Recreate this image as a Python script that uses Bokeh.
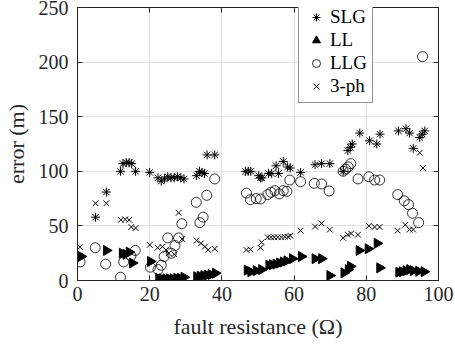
import numpy as np
from bokeh.plotting import figure
from bokeh.models import LinearAxis, Legend, LegendItem, FixedTicker
from bokeh.embed import file_html
from bokeh.resources import INLINE

slg_x = [0.5, 5, 8, 11.9, 12.6, 13.5, 14.3, 15, 16.1, 20, 22.3, 23.2, 24.1, 25, 25.9, 26.8, 27.7, 28.6, 29.5,
         33, 33.8, 34.5, 35.2, 35.9, 38, 46.5, 47.3, 48, 50.2, 50.7, 51.1, 52.9, 53.8, 55, 55.7, 57, 58.2, 58.9,
         61.8, 65.8, 67.6, 69.9, 73.6, 74.9, 75.6, 76.1, 78.2, 80.9, 82.9, 83.8, 88.9, 91, 92, 93, 94.8, 95.5, 96.2]
slg_y = [22, 58, 81, 100, 107, 108, 108, 107, 100, 99, 94, 91, 93, 95, 94, 94, 95, 94, 93,
         96, 100, 99, 98, 115, 115, 100, 100, 100, 96, 94, 94, 98, 98, 105, 98, 109, 104, 103,
         99, 106, 107, 107, 100, 119, 122, 125, 135, 128, 125, 134, 137, 139, 135, 121, 131, 134, 137]

ll_x = [1, 8, 12.4, 13.4, 14.3, 15.2, 20.2, 22.5, 23.5, 24.5, 25.5, 26.5, 27.5, 28.5, 29.5, 33, 34, 35, 36, 37, 38.2,
        47, 48, 49.5, 51, 53, 54, 55, 56, 57, 58, 59.5, 62, 65.8, 67.6, 69.9, 73.8, 75, 75.6, 78, 80.5, 83, 83.7,
        89, 90, 91, 92, 93, 94.5, 96]
ll_y = [22, 27.5, 25, 24, 26, 16, 17.4, 2, 1.5, 1.5, 1.5, 1.5, 2, 2, 3, 3.5, 4, 4.5, 5, 5.5, 6.7,
        9.5, 8, 9, 10, 14, 14.5, 15, 16, 17, 18, 20, 22, 20, 20, 4.5, 7, 10, 13, 27.5, 29, 34, 11.6,
        7.6, 8, 9, 10, 9, 8.5, 8]

llg_x = [0.7, 4.9, 7.8, 11.9, 12.8, 14.8, 16, 20.2, 22.3, 23.2, 24, 25, 26, 27, 28, 28.9, 32.9, 33.9, 34.8, 35.8, 38,
         46.8, 47.9, 49.5, 50.7, 52.7, 53.6, 54.7, 55.9, 57, 58, 58.8, 61.8, 65.6, 67.6, 69.7, 73.6, 74.3, 75, 75.7,
         77.7, 80.7, 82.3, 83.7, 88.7, 90.5, 91.7, 92.8, 94.5, 95.6]
llg_y = [17, 30, 15, 3, 17, 22.5, 27.5, 12.2, 10, 14, 22, 39, 25, 32, 39, 52, 71.6, 53, 58, 78, 93,
         80, 74, 75, 74.7, 78.7, 80.8, 82.3, 79.3, 82.3, 81.7, 92, 90.5, 89, 88.4, 82, 100, 102, 104, 107,
         93, 95, 92, 92, 78.7, 73, 69.5, 61.6, 53, 205]

ph3_x = [0.7, 5, 8, 12, 13.2, 14.3, 14.9, 16.1, 20, 22.2, 23.5, 24.5, 25.3, 26.8, 28, 29, 33, 34.2, 35.3, 36.2, 38,
         46.8, 47.9, 50.7, 51, 52.7, 53.6, 54.5, 55.5, 56.5, 57.4, 58.3, 59, 61.8, 65.8, 67.6, 69.9, 73.6, 74.9, 75.8,
         77.7, 80.7, 82.3, 83.7, 88.7, 90.8, 92, 93, 94.8, 95.7]
ph3_y = [30.5, 70.7, 70.7, 55.5, 56, 55.5, 49, 48, 32.6, 30, 31, 28, 25, 24, 62, 38, 36.6, 34, 31, 28, 29,
         28, 28.5, 30, 35, 39.6, 39.6, 39.6, 39.6, 39.6, 40, 40, 41, 45.7, 49.4, 52.4, 46.6, 39, 42, 43,
         42, 50, 49, 49, 45.7, 51, 46.6, 46.6, 117, 103]

x_ticks = [0, 20, 40, 60, 80, 100]
y_ticks = [0, 50, 100, 150, 200, 250]
series_names = ["SLG", "LL", "LLG", "3-ph"]

FONT = "Liberation Serif"
AX = "#262626"

p = figure(width=455, height=350, x_range=(0, 100), y_range=(0, 250),
           output_backend="svg", toolbar_location=None,
           min_border_left=74, min_border_right=17, min_border_top=7, min_border_bottom=70)
p.outline_line_color = AX
p.outline_line_width = 1

p.xaxis.ticker = FixedTicker(ticks=x_ticks)
p.yaxis.ticker = FixedTicker(ticks=y_ticks)
p.xaxis.axis_label = "fault resistance (Ω)"
p.yaxis.axis_label = "error (m)"
for ax in [p.xaxis[0], p.yaxis[0]]:
    ax.axis_line_color = AX
    ax.major_tick_line_color = AX
    ax.major_tick_in = 5
    ax.major_tick_out = 0
    ax.minor_tick_line_color = None
    ax.major_label_text_font = FONT
    ax.major_label_text_font_size = "20px"
    ax.major_label_text_color = AX
    ax.axis_label_text_font = FONT
    ax.axis_label_text_font_size = "22px"
    ax.axis_label_text_font_style = "normal"
    ax.axis_label_text_color = AX
p.xaxis.major_label_standoff = 6
p.xaxis.axis_label_standoff = 10
p.yaxis.major_label_standoff = 9
p.yaxis.axis_label_standoff = 7

for place, tick in [("right", y_ticks), ("above", x_ticks)]:
    a = LinearAxis(ticker=FixedTicker(ticks=tick), major_label_text_font_size="1px",
                   major_label_text_color=None,
                   major_label_standoff=0, major_tick_in=5, major_tick_out=0,
                   minor_tick_line_color=None, axis_line_color=AX, major_tick_line_color=AX)
    p.add_layout(a, place)

p.grid.grid_line_color = "#e2e2e2"
p.grid.grid_line_width = 1

r1 = p.scatter(slg_x, slg_y, marker="asterisk", size=9, line_color="black", line_width=1)
r2 = p.scatter(ll_x, ll_y, marker="triangle", size=10, angle=-np.pi / 2,
               fill_color="black", line_color="black", line_width=1)
r3 = p.scatter(llg_x, llg_y, marker="circle", size=10, fill_color=None, line_color="black", line_width=0.8)
r4 = p.scatter(ph3_x, ph3_y, marker="x", size=8, line_color="black", line_width=1)

legend = Legend(items=[LegendItem(label=series_names[0], renderers=[r1]),
                       LegendItem(label=series_names[1], renderers=[r2]),
                       LegendItem(label=series_names[2], renderers=[r3]),
                       LegendItem(label=series_names[3], renderers=[r4])],
                location=(221, 177), orientation="vertical",
                border_line_color=AX, border_line_width=1, background_fill_color="white",
                background_fill_alpha=1, label_text_font=FONT, label_text_font_size="19px",
                label_text_color="black", padding=5, spacing=1, margin=0,
                glyph_width=24, glyph_height=20, label_height=20, label_standoff=2)
p.add_layout(legend)

open("out.html", "w").write(file_html(p, INLINE))
